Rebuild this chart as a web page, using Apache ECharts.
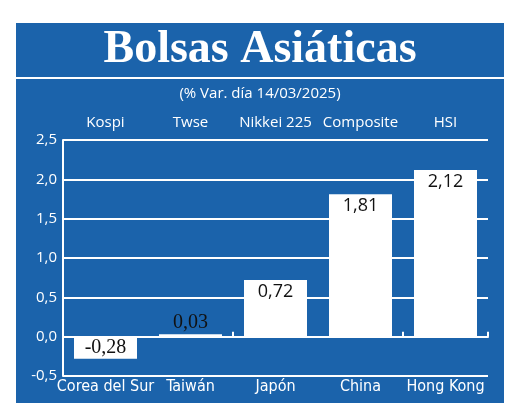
<!DOCTYPE html>
<html>
<head>
<meta charset="utf-8">
<script src="https://cdn.jsdelivr.net/npm/echarts@6/dist/echarts.min.js"></script>
<style>
  html, body { margin: 0; padding: 0; background: #fff; }
  #chart { width: 520px; height: 420px; }
</style>
</head>
<body>
<div id="chart"></div>
<script>
// datos
const paises = ['Corea del Sur', 'Taiwán', 'Japón', 'China', 'Hong Kong'];
const indices = ['Kospi', 'Twse', 'Nikkei 225', 'Composite', 'HSI'];
const variacion = [-0.28, 0.03, 0.72, 1.81, 2.12];
const yTicks = { min: -0.5, max: 2.5, step: 0.5 };

const azul = '#1b63ab';
const coma = (v, d) => v.toFixed(d).replace('.', ',');

const myChart = echarts.init(document.getElementById('chart'));

myChart.setOption({
  animation: false,
  graphic: [
    { type: 'rect', z: -10, shape: { x: 16, y: 23, width: 488, height: 380 }, style: { fill: azul } },
    { type: 'rect', z: -9, shape: { x: 16, y: 77, width: 488, height: 2 }, style: { fill: '#fff' } },
    {
      type: 'text', left: 'center', top: 27,
      style: { text: 'Bolsas Asiáticas', fill: '#fff', font: 'bold 46px "Liberation Serif", serif' }
    },
    {
      type: 'text', left: 'center', top: 86,
      style: { text: '(% Var. día 14/03/2025)', fill: '#fff', font: '15px "Open Sans", sans-serif' }
    }
  ],
  grid: { left: 63, right: 32, top: 140, bottom: 44 },
  xAxis: [
    {
      // línea del cero con marcas hacia arriba
      type: 'category',
      data: paises,
      position: 'bottom',
      axisLine: { onZero: true, lineStyle: { color: '#fff', width: 2 } },
      axisTick: { show: true, inside: true, length: 5, lineStyle: { color: '#fff', width: 2 } },
      axisLabel: { show: false }
    },
    {
      type: 'category',
      data: indices,
      position: 'top',
      axisLine: { show: false },
      axisTick: { show: false },
      axisLabel: { color: '#fff', fontSize: 15, margin: 10, interval: 0, fontFamily: 'Open Sans' }
    },
    {
      type: 'category',
      data: paises,
      position: 'bottom',
      axisLine: { show: false, onZero: false },
      axisTick: { show: false },
      axisLabel: {
        color: '#fff', fontSize: 16, margin: 3, interval: 0,
        fontFamily: '"DejaVu Sans Condensed", "Liberation Sans Narrow", Roboto, sans-serif'
      }
    }
  ],
  yAxis: {
    type: 'value',
    min: yTicks.min,
    max: yTicks.max,
    interval: yTicks.step,
    axisLine: { show: true, lineStyle: { color: '#fff', width: 2 } },
    axisTick: { show: false },
    axisLabel: {
      color: '#fff', fontSize: 15, margin: 6, fontFamily: 'Open Sans',
      formatter: (v) => coma(v, 1)
    },
    splitLine: { lineStyle: { color: '#fff', width: 2 } }
  },
  series: [
    {
      type: 'bar',
      xAxisIndex: 0,
      barWidth: 63,
      data: variacion.map((v, i) => ({
        value: v,
        label: i < 2
          ? { position: v > 0 ? 'top' : 'insideTop', fontFamily: '"Liberation Serif", serif', fontSize: 20, distance: v > 0 ? 2 : 1 }
          : { position: 'insideTop', fontFamily: 'Open Sans' }
      })),
      itemStyle: { color: '#fff' },
      label: {
        show: true,
        color: '#111',
        fontSize: 18,
        distance: 3,
        formatter: (p) => coma(p.value, 2)
      }
    }
  ]
});
</script>
</body>
</html>
